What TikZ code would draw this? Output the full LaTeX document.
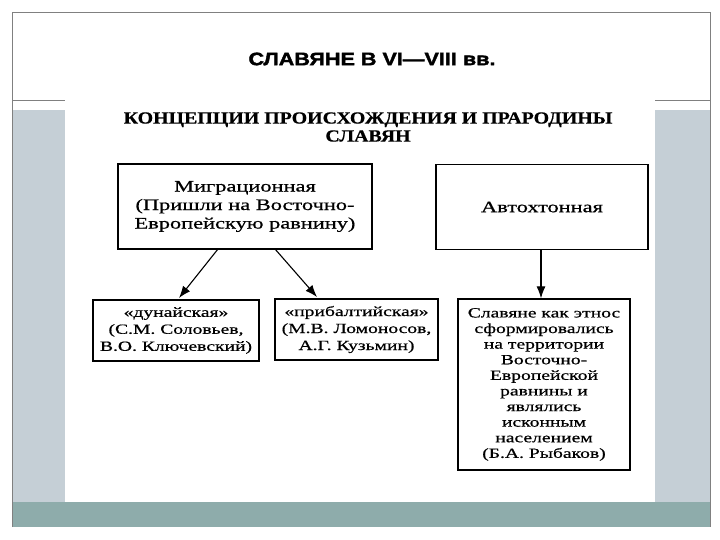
\documentclass[tikz,border=0pt]{standalone}
\usepackage{fontspec}
\setmainfont{Liberation Serif}
\newfontfamily\boxfont[FakeStretch=1.4,FakeBold=0.6]{Liberation Serif}
\newfontfamily\subfont[FakeStretch=1.17,FakeBold=0.5]{Liberation Serif Bold}
\newfontfamily\titlefont[FakeStretch=1.2,FakeBold=2]{Liberation Sans Bold}
\usetikzlibrary{arrows.meta}
\definecolor{panelc}{HTML}{C5CFD6}
\definecolor{bandc}{HTML}{8EACAB}
\definecolor{framec}{HTML}{808080}
\tikzset{
  framestyle/.style={draw=framec, line width=0.8pt},
  boxstyle/.style={draw=black, line width=1.3pt, inner sep=0pt, align=center},
  bigtext/.style={font={\boxfont\fontsize{16}{18.5}\selectfont}},
  smalltext/.style={font={\boxfont\fontsize{14}{17}\selectfont}},
  arr/.style={-{Latex[length=12pt,width=9pt]}, line width=1.1pt}
}
\begin{document}
\begin{tikzpicture}[x=1pt,y=-1pt]
\useasboundingbox (0,0) rectangle (720,540);
\fill[white] (0,0) rectangle (720,540);
% slide decoration
\fill[panelc] (12,110) rectangle (65,502);
\fill[panelc] (655,110) rectangle (710,502);
\fill[bandc] (12,502) rectangle (710,527);
\draw[framestyle] (12,527) -- (12,12.5) -- (710,12.5) -- (710,527);
\draw[framestyle] (12,100) -- (65,100);
\draw[framestyle] (655,100) -- (710,100);
% titles
\node[font={\titlefont\fontsize{18}{20}\selectfont}] (title) at (372,59) {СЛАВЯНЕ В VI—VIII вв.};
\node[font={\subfont\fontsize{17}{18}\selectfont}, align=center] (sub) at (368,127) {КОНЦЕПЦИИ ПРОИСХОЖДЕНИЯ И ПРАРОДИНЫ\\СЛАВЯН};
% boxes
\node[boxstyle, bigtext, minimum width=254pt, minimum height=85pt] (mig) at (245,206.5)
  {Миграционная\\(Пришли на Восточно-\\Европейскую равнину)};
\node[boxstyle, bigtext, minimum width=212pt, minimum height=85pt] (auto) at (542,207)
  {Автохтонная};
\node[boxstyle, smalltext, minimum width=166pt, minimum height=61pt] (dun) at (176,330.5)
  {«дунайская»\\(С.М. Соловьев,\\В.О. Ключевский)};
\node[boxstyle, smalltext, minimum width=163pt, minimum height=61pt] (prib) at (356.5,329.5)
  {«прибалтийская»\\(М.В. Ломоносов,\\А.Г. Кузьмин)};
\node[boxstyle, font={\boxfont\fontsize{14}{15.6}\selectfont}, minimum width=172pt, minimum height=171pt] (slav) at (544,384.5)
  {Славяне как этнос\\сформировались\\на территории\\Восточно-\\Европейской\\равнины и\\являлись\\исконным\\населением\\(Б.А. Рыбаков)};
% connectors
\coordinate (m1) at (218,249);
\coordinate (m2) at (275,249);
\coordinate (d1) at (179,298);
\coordinate (p1) at (317,297);
\draw[arr] (m1) -- (d1);
\draw[arr] (m2) -- (p1);
\draw[arr] (auto.south -| 541,0) -- (slav.north -| 541,0);
\end{tikzpicture}
\end{document}
